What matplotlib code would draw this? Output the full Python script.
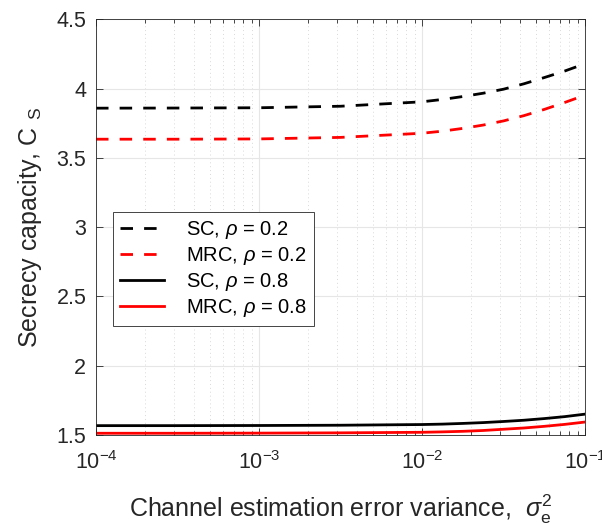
import numpy as np
import matplotlib

matplotlib.use("Agg")
import matplotlib.pyplot as plt
from matplotlib.ticker import LogLocator, NullFormatter

plt.rcParams["font.family"] = ["Liberation Sans", "DejaVu Sans"]
plt.rcParams["mathtext.fontset"] = "custom"
plt.rcParams["mathtext.rm"] = "Liberation Sans"
plt.rcParams["mathtext.it"] = "Liberation Sans:italic"
plt.rcParams["mathtext.bf"] = "Liberation Sans:bold"
plt.rcParams["axes.unicode_minus"] = False

# estimation error variance (log10 of sigma_e^2)
log_var = [-4.0, -3.5, -3.0, -2.5, -2.0, -1.875, -1.75, -1.625, -1.5, -1.375, -1.25, -1.125, -1.0]

# secrecy capacity for each scheme / correlation
sc_rho02 = [3.859, 3.860, 3.862, 3.873, 3.905, 3.922, 3.943, 3.967, 3.996, 4.035, 4.080, 4.127, 4.180]
mrc_rho02 = [3.635, 3.635, 3.637, 3.648, 3.678, 3.693, 3.713, 3.737, 3.767, 3.805, 3.850, 3.900, 3.953]
sc_rho08 = [1.567, 1.567, 1.568, 1.570, 1.575, 1.578, 1.583, 1.589, 1.597, 1.606, 1.618, 1.632, 1.650]
mrc_rho08 = [1.512, 1.512, 1.513, 1.515, 1.519, 1.522, 1.526, 1.532, 1.541, 1.550, 1.562, 1.576, 1.593]

x = 10.0 ** np.array(log_var)
edge = "#262626"

fig = plt.figure(figsize=(6.02, 5.24), dpi=100)
ax = fig.add_axes([0.1595, 0.170, 0.8123, 0.793])

dash = (0, (4.5, 4.0))
ax.plot(x, sc_rho02, color="black", linestyle=dash, linewidth=2, label=r"SC, $\rho$ = 0.2")
ax.plot(x, mrc_rho02, color="red", linestyle=dash, linewidth=2, label=r"MRC, $\rho$ = 0.2")
ax.plot(x, sc_rho08, color="black", linewidth=2, label=r"SC, $\rho$ = 0.8")
ax.plot(x, mrc_rho08, color="red", linewidth=2, label=r"MRC, $\rho$ = 0.8")

ax.set_xscale("log")
ax.set_xlim(1e-4, 1e-1)
ax.set_ylim(1.5, 4.5)
ax.set_yticks([1.5, 2, 2.5, 3, 3.5, 4, 4.5])
ax.set_yticklabels(["1.5", "2", "2.5", "3", "3.5", "4", "4.5"])
ax.xaxis.set_major_locator(LogLocator(base=10, numticks=10))
ax.xaxis.set_minor_locator(LogLocator(base=10, subs=np.arange(2, 10), numticks=10))
ax.xaxis.set_minor_formatter(NullFormatter())

ax.grid(True, which="major", color="#e6e6e6", linewidth=0.8)
ax.grid(True, which="minor", axis="x", color="#d9d9d9", linestyle=(0, (1, 3)), linewidth=0.7)
ax.set_axisbelow(True)

ax.tick_params(which="both", direction="in", top=True, right=True, colors=edge,
               labelsize=15.5, width=0.6)
ax.tick_params(which="major", length=5)
ax.tick_params(which="minor", length=3)
ax.tick_params(axis="y", which="major", pad=7)
ax.tick_params(axis="x", which="major", pad=12)
for s in ax.spines.values():
    s.set_color(edge)
    s.set_linewidth(0.6)

ax.set_xlabel(r"Channel estimation error variance,  $\sigma_\mathrm{e}^\mathrm{2}$",
              fontsize=18, color=edge, labelpad=13)
ax.set_ylabel(r"Secrecy capacity, C $_\mathrm{S}$", fontsize=18, color=edge, labelpad=9)

leg = ax.legend(loc="upper left", bbox_to_anchor=(0.034, 0.537), borderaxespad=0,
                fontsize=14.5, fancybox=False, framealpha=1, edgecolor=edge,
                handlelength=2.2, handletextpad=1.1, labelspacing=0.2,
                borderpad=0.35)
leg.get_frame().set_linewidth(0.6)
for t in leg.get_texts():
    t.set_color("black")

fig.savefig("out.png", dpi=100)
